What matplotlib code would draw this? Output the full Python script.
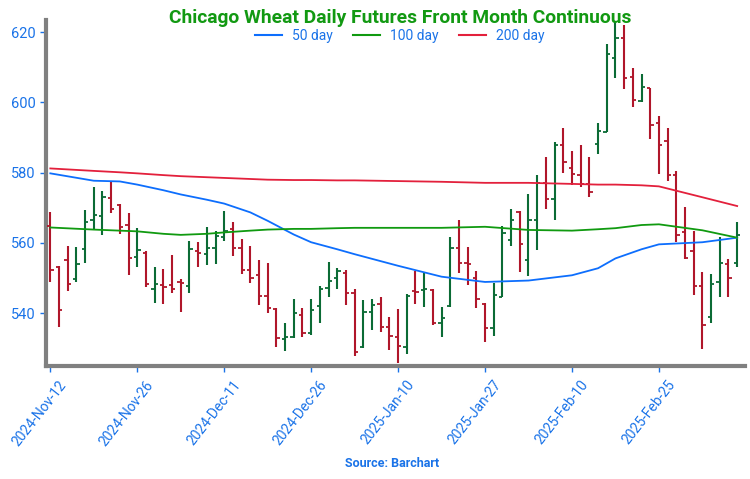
import numpy as np
import matplotlib
matplotlib.use("Agg")
import matplotlib.pyplot as plt
import matplotlib.transforms as mtransforms
from matplotlib.lines import Line2D

plt.rcParams['font.family'] = ['Roboto', 'DejaVu Sans']

# daily OHLC (cents/bu)
opens = [564.7, 553.1, 555.1, 549.7, 558.2, 566.5, 567.7, 572.7, 570.7, 565.1,
         555.9, 557.0, 546.9, 548.0, 548.0, 548.9, 547.7, 557.8, 556.8, 558.5,
         561.8, 563.9, 558.6, 552.3, 550.9, 544.9, 541.1, 532.6, 533.1, 539.5,
         534.5, 542.0, 547.2, 550.0, 551.5, 545.7, 530.3, 540.4, 542.7, 536.0,
         533.1, 530.5, 546.4, 546.6, 546.6, 537.3, 542.0, 558.5, 554.2, 549.9,
         542.6, 535.7, 544.7, 560.8, 568.9, 555.1, 566.5, 577.1, 572.4, 587.9,
         581.4, 579.3, 576.8, 588.1, 591.6, 612.5, 618.2, 607.3, 600.4, 604.2,
         594.0, 589.0, 579.3, 563.2, 557.7, 547.8, 539.0, 549.0, 553.9, 554.2]
highs = [568.7, 553.4, 559.2, 558.9, 569.3, 575.8, 574.8, 577.4, 571.1, 568.4,
         564.3, 557.8, 553.1, 552.6, 556.5, 549.6, 560.5, 560.3, 564.6, 563.4,
         569.2, 566.0, 561.0, 559.1, 555.1, 554.2, 541.6, 537.1, 544.0, 541.4,
         544.0, 547.7, 554.7, 552.8, 552.3, 546.8, 543.8, 544.1, 544.5, 539.0,
         541.1, 545.5, 552.1, 551.5, 546.8, 541.8, 561.8, 566.5, 558.9, 552.1,
         542.8, 548.5, 564.8, 569.8, 569.2, 573.8, 579.3, 584.4, 588.8, 592.6,
         586.2, 587.9, 584.5, 594.2, 616.6, 623.0, 622.0, 609.8, 608.2, 604.2,
         596.2, 592.8, 580.5, 570.3, 563.4, 551.6, 551.1, 561.8, 555.4, 566.0]
lows = [549.0, 536.2, 546.3, 549.0, 554.4, 563.7, 562.2, 568.4, 562.5, 550.9,
        553.1, 547.5, 542.8, 542.6, 545.8, 540.4, 545.8, 553.1, 553.7, 553.9,
        560.5, 556.3, 551.1, 548.7, 542.3, 540.1, 530.5, 529.3, 532.9, 533.3,
        533.8, 537.1, 544.5, 546.8, 542.3, 527.8, 530.0, 535.2, 534.6, 529.5,
        525.7, 528.3, 542.6, 541.8, 536.6, 533.3, 541.8, 551.5, 548.0, 541.4,
        531.9, 533.5, 544.5, 559.1, 551.8, 550.6, 558.0, 569.6, 566.5, 579.8,
        576.5, 576.0, 573.0, 585.3, 591.5, 606.8, 603.8, 598.7, 600.2, 589.6,
        579.5, 577.6, 560.2, 555.4, 545.2, 529.8, 537.1, 544.7, 544.7, 553.2]
closes = [552.3, 540.9, 548.2, 553.9, 565.9, 567.9, 573.1, 569.6, 564.6, 555.6,
          558.0, 548.3, 548.2, 547.4, 547.0, 548.5, 558.2, 557.2, 558.7, 561.9,
          563.4, 558.5, 552.3, 550.1, 544.9, 541.4, 532.9, 533.3, 540.0, 534.3,
          540.9, 546.9, 549.2, 552.0, 545.7, 529.0, 540.4, 542.3, 536.0, 533.5,
          530.6, 544.9, 546.0, 547.0, 537.1, 538.7, 558.7, 554.2, 554.0, 544.0,
          535.7, 545.2, 562.7, 566.5, 559.7, 566.5, 577.1, 572.4, 587.9, 583.1,
          579.6, 576.8, 574.4, 591.9, 613.7, 618.2, 607.0, 600.7, 604.4, 593.7,
          587.9, 579.3, 562.4, 555.6, 547.8, 536.6, 548.2, 554.2, 549.9, 562.4]

# moving averages, read at a few sessions along the chart
ma_idx = [0, 5, 8, 10, 13, 15, 18, 20, 23, 25, 28, 30, 33, 35, 40, 45,
          50, 55, 60, 63, 65, 68, 70, 75, 79]
ma50 = [579.8, 577.7, 577.5, 576.6, 575.0, 573.8, 572.3, 571.2, 568.7, 566.3,
        562.4, 560.2, 558.2, 556.8, 553.5, 550.4, 548.9, 549.3, 550.8, 552.8,
        555.6, 558.2, 559.6, 560.2, 561.5]
ma100 = [564.4, 563.8, 563.5, 563.3, 562.6, 562.3, 562.6, 563.0, 563.5, 563.8,
         564.0, 564.0, 564.2, 564.3, 564.3, 564.3, 564.6, 563.7, 563.5, 563.9,
         564.2, 565.1, 565.3, 563.6, 561.5]
ma200 = [581.2, 580.5, 580.1, 579.8, 579.3, 579.0, 578.7, 578.5, 578.2, 578.0,
         577.9, 577.9, 577.8, 577.8, 577.6, 577.4, 577.1, 577.1, 576.8, 576.6,
         576.6, 576.4, 576.1, 573.0, 570.5]

tick_pos = [0, 10, 20, 30, 40, 50, 60, 70]
tick_labels = ['2024-Nov-12', '2024-Nov-26', '2024-Dec-11', '2024-Dec-26',
               '2025-Jan-10', '2025-Jan-27', '2025-Feb-10', '2025-Feb-25']

blue_txt = '#1a73e8'
up_col = '#0b6b35'
down_col = '#b0162a'

fig = plt.figure(figsize=(7.5, 4.79), dpi=100)
ax = fig.add_axes([0.0613, 0.236, 0.932, 0.722])

x = np.arange(len(opens))
o = np.array(opens); h = np.array(highs); l = np.array(lows); c = np.array(closes)
cols = np.where(c >= o, up_col, down_col)

ax.vlines(x, l, h, colors=cols, lw=1.5, zorder=3)
ax.hlines(o, x - 0.38, x, colors=cols, lw=1.3, zorder=3)
ax.hlines(c, x, x + 0.38, colors=cols, lw=1.3, zorder=3)

ax.plot(ma_idx, ma50, color='#0d6efd', lw=1.3, zorder=4)
ax.plot(ma_idx, ma100, color='#109a10', lw=1.3, zorder=4)
ax.plot(ma_idx, ma200, color='#e3203c', lw=1.3, zorder=4)

ax.set_xlim(-0.5, 79.9)
ax.set_ylim(525.0, 623.4)
ax.set_yticks([540, 560, 580, 600, 620])
ax.set_xticks(tick_pos)
ax.set_xticklabels([])

# rotated date labels, drawn a bit right of each tick
lab_tr = ax.get_xaxis_transform() + mtransforms.ScaledTranslation(
    0.08, -0.12, fig.dpi_scale_trans)
for p, s in zip(tick_pos, tick_labels):
    ax.text(p, 0, s, transform=lab_tr, rotation=52, ha='right', va='top',
            rotation_mode='anchor', color=blue_txt, fontsize=10, clip_on=False)

ax.tick_params(axis='both', colors=blue_txt, labelsize=10.5, length=4, width=1)

for s in ['top', 'right']:
    ax.spines[s].set_visible(False)
for s in ['left', 'bottom']:
    ax.spines[s].set_color('#808080')
    ax.spines[s].set_linewidth(3)

fig.text(0.533, 0.962, 'Chicago Wheat Daily Futures Front Month Continuous',
         ha='center', va='center', color='#129912', fontsize=13.9, fontweight='bold')

handles = [Line2D([], [], color='#0d6efd', lw=1.5),
           Line2D([], [], color='#109a10', lw=1.5),
           Line2D([], [], color='#e3203c', lw=1.5)]
leg = fig.legend(handles, ['50 day', '100 day', '200 day'], loc='upper center',
                 bbox_to_anchor=(0.533, 0.965), ncol=3, frameon=False,
                 fontsize=10, handlelength=1.95, columnspacing=1.45,
                 handletextpad=0.7)
for t in leg.get_texts():
    t.set_color(blue_txt)

fig.text(0.523, 0.033, 'Source: Barchart', ha='center', va='center',
         color=blue_txt, fontsize=9, fontweight='bold')

fig.savefig('out.png', dpi=100)
